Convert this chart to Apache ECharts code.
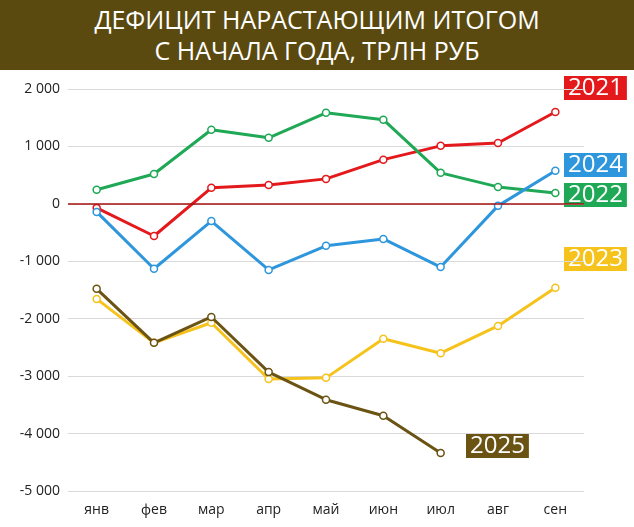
<!DOCTYPE html>
<html>
<head>
<meta charset="UTF-8">
<title></title>
<style>
body{margin:0;background:#fff;}
#title{position:absolute;left:0;top:0;width:634px;height:70px;background:#5b4a10;color:#fff;font-family:"Open Sans",sans-serif;font-size:25px;line-height:31px;text-align:center;padding-top:4px;box-sizing:border-box;}
#chart{position:absolute;left:0;top:70px;width:634px;height:457px;}
</style>
</head>
<body>
<div id="title">ДЕФИЦИТ НАРАСТАЮЩИМ ИТОГОМ<br>С НАЧАЛА ГОДА, ТРЛН РУБ</div>
<div id="chart"></div>
<script src="https://cdn.jsdelivr.net/npm/echarts@6/dist/echarts.min.js"></script>
<script>
var months = ['янв','фев','мар','апр','май','июн','июл','авг','сен'];
var y2021 = [-70, -560, 280, 330, 435, 770, 1010, 1060, 1600];
var y2022 = [245, 520, 1290, 1150, 1585, 1465, 540, 295, 190];
var y2023 = [-1655, -2420, -2070, -3050, -3030, -2350, -2600, -2125, -1460];
var y2024 = [-140, -1130, -300, -1150, -730, -610, -1100, -35, 575];
var y2025 = [-1480, -2420, -1970, -2930, -3410, -3690, -4340];

var colors = {'2021':'#e3191c','2022':'#1fa855','2023':'#f6c21c','2024':'#2e96dc','2025':'#6b5314'};

function line(name, data) {
	return {
		name: name, type: 'line', data: data,
		symbol: 'circle', symbolSize: 7,
		lineStyle: {width: 3, color: colors[name]},
		itemStyle: {color: '#fff', borderColor: colors[name], borderWidth: 1.5},
		z: name == '2025' ? 3 : 2
	};
}
function tag(name, x, y) {
	return {
		type: 'text', left: x, top: y,
		style: {text: name, fill: '#fff', font: '24px "Open Sans"', backgroundColor: colors[name], padding: [0, 4, 0, 4]}
	};
}

var myChart = echarts.init(document.getElementById('chart'));
myChart.setOption({
	animation: false,
	grid: {left: 68, right: 50, top: 19, bottom: 36},
	xAxis: {
		type: 'category', data: months,
		axisLine: {show: false}, axisTick: {show: false},
		axisLabel: {color: '#222', fontSize: 14, fontFamily: 'Open Sans', margin: 12}
	},
	yAxis: {
		type: 'value', min: -5000, max: 2000, interval: 1000,
		axisLabel: {color: '#222', fontSize: 14, fontFamily: 'Open Sans',
			formatter: function (v) { return v == 0 ? '0' : (v < 0 ? '-' : '') + String(Math.abs(v)).replace('000', ' 000'); }},
		splitLine: {lineStyle: {color: '#d9d9d9'}}
	},
	series: [
		Object.assign(line('2021', y2021), {markLine: {silent: true, symbol: 'none', label: {show: false},
			lineStyle: {color: '#a31010', type: 'solid', width: 1.5}, data: [{yAxis: 0}]}}),
		line('2022', y2022), line('2023', y2023), line('2024', y2024), line('2025', y2025)
	],
	graphic: [
		tag('2021', 564, 6), tag('2024', 564, 83), tag('2022', 564, 113),
		tag('2023', 564, 177), tag('2025', 466, 364)
	]
});
</script>
</body>
</html>
